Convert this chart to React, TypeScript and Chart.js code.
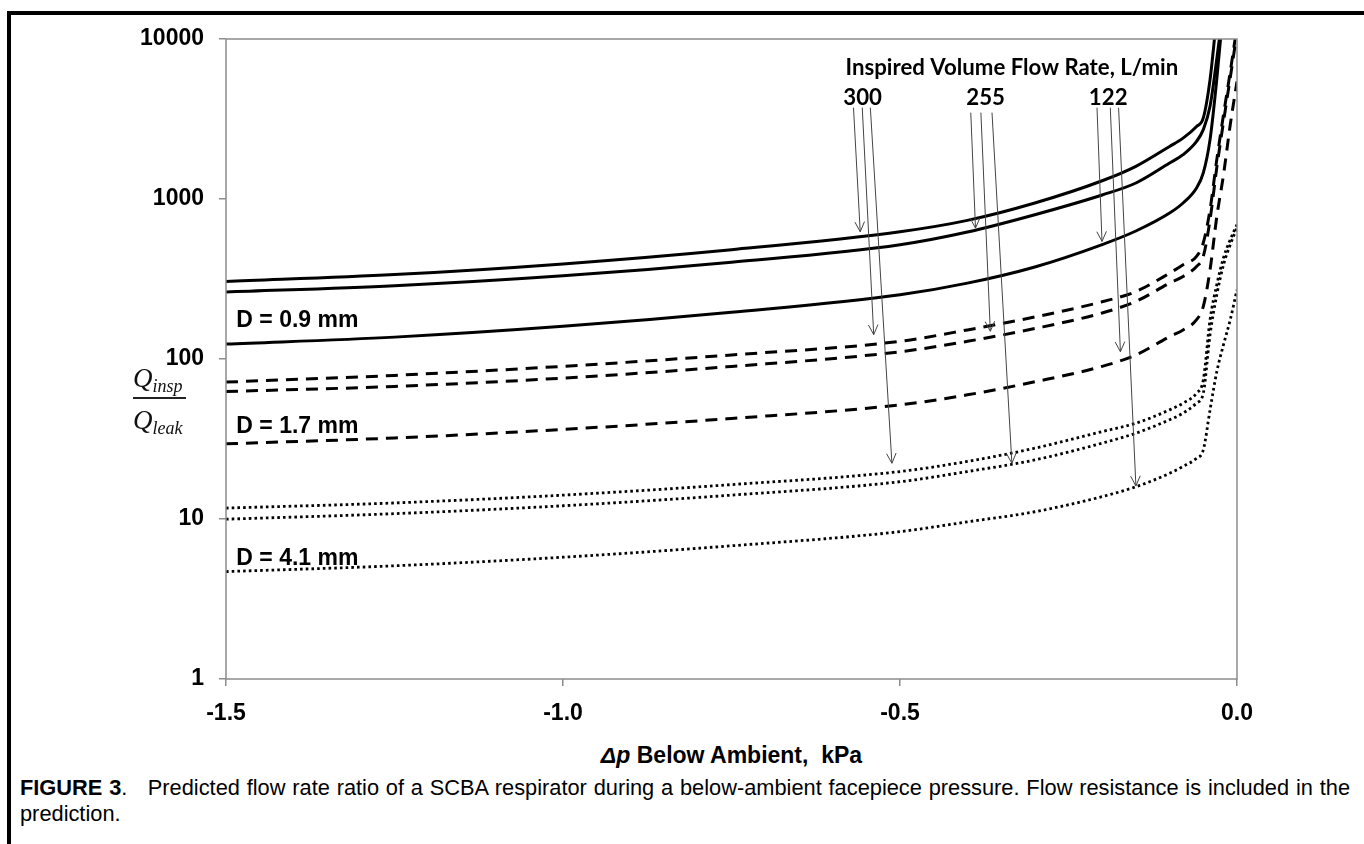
import React, { useEffect, useRef } from "react";
import { Chart, registerables } from "chart.js";
Chart.register(...registerables);

// x values: facepiece pressure below ambient, kPa
const pressureKPa = [-1.5, -1.25, -1.0, -0.75, -0.5, -0.4, -0.3, -0.2, -0.15, -0.1, -0.08, -0.06, -0.05, -0.04, -0.03, -0.02, -0.01, 0];

// D = 0.9 mm (solid)
const solid300 = [305, 337, 393, 482, 624, 735, 944, 1300, 1600, 2130, 2400, 2840, 3210, 5570, 14000, null, null, null];
const solid255 = [262, 287, 331, 403, 518, 622, 798, 1060, 1259, 1679, 1892, 2291, 2713, 3795, 7500, 16000, null, null];
const solid122 = [124, 137, 160, 196, 252, 298, 376, 519, 631, 817, 944, 1172, 1455, 2350, 5600, 16000, null, null];
// D = 1.7 mm (dashed)
const dashed300 = [71.7, 79.0, 90, 106, 129, 152, 183, 228, 264, 344, 388, 438, 533, 857, 1762, 3366, 6253, 12000];
const dashed255 = [62.6, 67.4, 76, 89.8, 111, 129, 155, 194, 229, 298, 328, 379, 438, 742, 1570, 3043, 5737, 11000];
const dashed122 = [29.5, 32.1, 36.3, 42.5, 51.7, 59.7, 72, 90, 106, 138, 152, 176, 213, 361, 775, 1419, 2915, 5418];
// D = 4.1 mm (dotted)
const dotted300 = [11.7, 12.6, 14.1, 16.4, 19.8, 22.9, 27.7, 35.2, 39.7, 48.1, 53, 61.2, 74, 176, 291, 430, 558, 691];
const dotted255 = [9.97, 10.8, 12.1, 14.1, 17.1, 19.8, 23.4, 29.8, 34.4, 41.7, 45.9, 53, 61.2, 142, 252, 388, 518, 661];
const dotted122 = [4.69, 5.1, 5.77, 6.8, 8.34, 9.6, 11.1, 13.8, 15.9, 19.3, 21.3, 24, 27, 48.1, 83.2, 123, 176, 271];

const xTicks = [-1.5, -1.0, -0.5, 0.0];
const yTicks = [1, 10, 100, 1000, 10000];

const flowRates = ["300", "255", "122"];
const flowLabelX = [-0.5555, -0.373, -0.1911];
const flowLabelY = 4303;
const flowTitle = "Inspired Volume Flow Rate, L/min";
const flowTitleX = -0.334;
const flowTitleY = 6622;

// arrows (data coordinates), one group per flow rate, pointing to solid/dashed/dotted curves
const arrowStartX = [[-0.569, -0.556, -0.544], [-0.395, -0.38, -0.3635], [-0.2077, -0.188, -0.1757]];
const arrowStartY = [3724, 3465, 3724];
const arrowTipX = [[-0.559, -0.539, -0.512], [-0.388, -0.366, -0.334], [-0.2003, -0.173, -0.15]];
const arrowTipY = [[624, 142, 22.3], [658, 149, 22.3], [543, 111, 16.1]];

const diameterLabels = ["D = 0.9 mm", "D = 1.7 mm", "D = 4.1 mm"];
const diameterLabelX = -1.4847;
const diameterLabelY = [174, 37.8, 5.69];

const series = [
  { name: "300 L/min, D=0.9", data: solid300, style: "solid" },
  { name: "255 L/min, D=0.9", data: solid255, style: "solid" },
  { name: "122 L/min, D=0.9", data: solid122, style: "solid" },
  { name: "300 L/min, D=1.7", data: dashed300, style: "dashed" },
  { name: "255 L/min, D=1.7", data: dashed255, style: "dashed" },
  { name: "122 L/min, D=1.7", data: dashed122, style: "dashed" },
  { name: "300 L/min, D=4.1", data: dotted300, style: "dotted" },
  { name: "255 L/min, D=4.1", data: dotted255, style: "dotted" },
  { name: "122 L/min, D=4.1", data: dotted122, style: "dotted" },
];

const annotationPlugin = {
  id: "figureAnnotations",
  afterDraw(chart: any) {
    const { ctx, chartArea, scales } = chart;
    const xs = scales.x;
    const ys = scales.y;
    ctx.save();
    // plot frame
    ctx.strokeStyle = "#8c8c8c";
    ctx.lineWidth = 1.5;
    ctx.strokeRect(chartArea.left, chartArea.top, chartArea.right - chartArea.left, chartArea.bottom - chartArea.top);

    // arrows
    ctx.strokeStyle = "#444";
    ctx.lineWidth = 1;
    for (let g = 0; g < arrowTipX.length; g++) {
      for (let i = 0; i < arrowTipX[g].length; i++) {
        const x0 = xs.getPixelForValue(arrowStartX[g][i]);
        const y0 = ys.getPixelForValue(arrowStartY[g]);
        const x1 = xs.getPixelForValue(arrowTipX[g][i]);
        const y1 = ys.getPixelForValue(arrowTipY[g][i]);
        ctx.beginPath();
        ctx.moveTo(x0, y0);
        ctx.lineTo(x1, y1);
        const a = Math.atan2(y1 - y0, x1 - x0);
        const len = 11;
        const spread = 0.45;
        ctx.moveTo(x1 - len * Math.cos(a - spread), y1 - len * Math.sin(a - spread));
        ctx.lineTo(x1, y1);
        ctx.lineTo(x1 - len * Math.cos(a + spread), y1 - len * Math.sin(a + spread));
        ctx.stroke();
      }
    }

    // flow-rate annotation text
    ctx.fillStyle = "#000";
    ctx.textAlign = "center";
    ctx.textBaseline = "middle";
    ctx.font = 'bold 20px "Lato"';
    const w = ctx.measureText(flowTitle).width;
    const size = (20 * 333) / w;
    ctx.font = `bold ${size.toFixed(2)}px "Lato"`;
    ctx.fillText(flowTitle, xs.getPixelForValue(flowTitleX), ys.getPixelForValue(flowTitleY));
    for (let i = 0; i < flowRates.length; i++) {
      ctx.fillText(flowRates[i], xs.getPixelForValue(flowLabelX[i]), ys.getPixelForValue(flowLabelY));
    }

    // diameter labels
    ctx.textAlign = "left";
    ctx.font = 'bold 23px "Liberation Sans"';
    for (let i = 0; i < diameterLabels.length; i++) {
      ctx.fillText(diameterLabels[i], xs.getPixelForValue(diameterLabelX), ys.getPixelForValue(diameterLabelY[i]));
    }
    ctx.restore();
  },
};

export default function App() {
  const ref = useRef<HTMLCanvasElement | null>(null);
  useEffect(() => {
    if (!ref.current) return;
    const datasets = series.map((s) => ({
      label: s.name,
      data: pressureKPa.map((x, i) => ({ x, y: s.data[i] })),
      borderColor: "#000",
      backgroundColor: "#000",
      borderWidth: s.style === "dotted" ? 2.8 : 3,
      borderDash: s.style === "dashed" ? [12, 8] : s.style === "dotted" ? [2.6, 3.1] : [],
      borderCapStyle: "butt" as const,
      pointRadius: 0,
      fill: false,
      cubicInterpolationMode: "monotone" as const,
      spanGaps: false,
    }));
    const chart = new Chart(ref.current, {
      type: "line",
      data: { datasets },
      options: {
        animation: false,
        responsive: false,
        devicePixelRatio: 1,
        layout: { padding: { left: 0, top: 39, right: 127, bottom: 0 } },
        plugins: { legend: { display: false }, tooltip: { enabled: false } },
        scales: {
          x: {
            type: "linear",
            min: -1.5,
            max: 0,
            afterBuildTicks: (scale: any) => {
              scale.ticks = xTicks.map((v) => ({ value: v }));
            },
            afterFit: (scale: any) => {
              scale.height = 61;
            },
            grid: { drawOnChartArea: false, drawTicks: true, tickLength: 7, tickColor: "#8c8c8c", lineWidth: 1.5 },
            border: { display: false },
            ticks: {
              padding: 14,
              color: "#000",
              font: { family: "Liberation Sans", size: 23, weight: "bold" },
              callback: (v: any) => Number(v).toFixed(1),
              maxRotation: 0,
            },
          },
          y: {
            type: "logarithmic",
            min: 1,
            max: 10000,
            afterBuildTicks: (scale: any) => {
              scale.ticks = yTicks.map((v) => ({ value: v }));
            },
            afterFit: (scale: any) => {
              scale.width = 226;
            },
            grid: { drawOnChartArea: false, drawTicks: true, tickLength: 7, tickColor: "#8c8c8c", lineWidth: 1.5 },
            border: { display: false },
            ticks: {
              padding: 15,
              color: "#000",
              font: { family: "Liberation Sans", size: 23, weight: "bold" },
              callback: (v: any) => String(v),
            },
          },
        },
      },
      plugins: [annotationPlugin],
    });
    return () => chart.destroy();
  }, []);

  return (
    <div style={{ position: "absolute", left: 0, top: 0, width: 1364, height: 844, overflow: "hidden", background: "#fff" }}>
      <canvas ref={ref} width={1364} height={740} style={{ position: "absolute", left: 0, top: 0, width: 1364, height: 740 }} />
      {/* figure frame */}
      <div style={{ position: "absolute", left: 7, top: 11, width: 1357, height: 4, background: "#000" }} />
      <div style={{ position: "absolute", left: 7, top: 11, width: 4, height: 833, background: "#000" }} />
      {/* y axis title: Q_insp / Q_leak */}
      <div style={{ position: "absolute", left: 133, top: 365, fontFamily: "'Liberation Serif'", fontStyle: "italic", fontSize: 27, lineHeight: "26px", whiteSpace: "nowrap", color: "#111" }}>
        Q<span style={{ fontSize: 18, position: "relative", top: 5 }}>insp</span>
      </div>
      <div style={{ position: "absolute", left: 133, top: 397, width: 53, height: 1.5, background: "#222" }} />
      <div style={{ position: "absolute", left: 133, top: 407, fontFamily: "'Liberation Serif'", fontStyle: "italic", fontSize: 27, lineHeight: "26px", whiteSpace: "nowrap", color: "#111" }}>
        Q<span style={{ fontSize: 18, position: "relative", top: 5 }}>leak</span>
      </div>
      {/* x axis title */}
      <div style={{ position: "absolute", left: 226, top: 741, width: 1011, textAlign: "center", fontFamily: "'Liberation Sans'", fontWeight: "bold", fontSize: 23, lineHeight: "28px", whiteSpace: "pre" }}>
        <i>Δp</i>{" Below Ambient,  kPa"}
      </div>
      {/* caption */}
      <div style={{ position: "absolute", left: 20, top: 775, width: 1330, textAlign: "justify", fontFamily: "'Liberation Sans'", fontSize: 21.8, lineHeight: "26px", color: "#000" }}>
        <b>FIGURE 3</b>.&nbsp;&nbsp; Predicted flow rate ratio of a SCBA respirator during a below-ambient facepiece pressure. Flow resistance is included in the prediction.
      </div>
    </div>
  );
}
